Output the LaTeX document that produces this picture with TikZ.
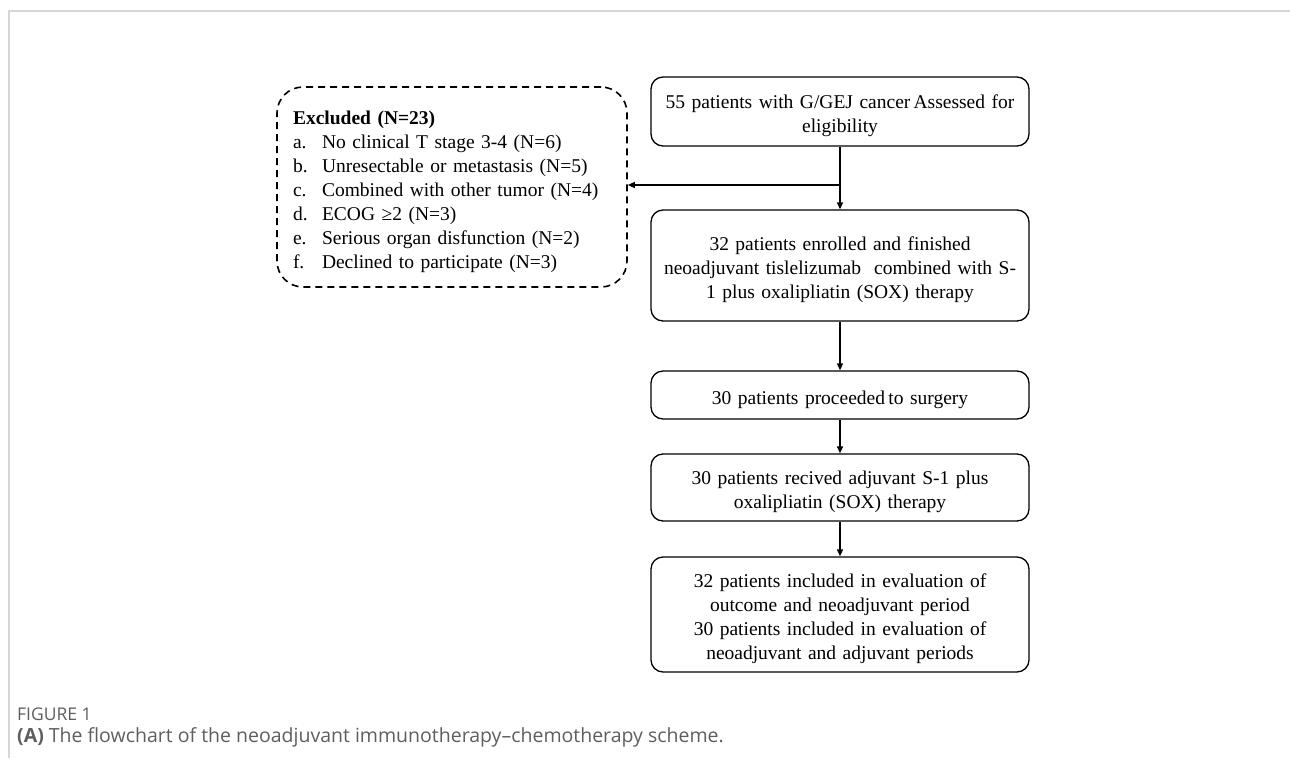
\documentclass[tikz,border=0pt]{standalone}
\usepackage{fontspec}
\setmainfont{Liberation Serif}
\newfontfamily\capfont{Open Sans}
\usetikzlibrary{arrows.meta}
\definecolor{framegray}{HTML}{D6D6D6}
\definecolor{capgray}{HTML}{5E5E5E}
\tikzset{
  flowbox/.style={draw, rounded corners=12pt, line width=1.3pt, minimum width=378pt,
    text width=372pt, align=center, inner sep=0pt, font=\fontsize{19.5}{24}\selectfont,
    execute at begin node={\rule{0pt}{23pt}}},
  exclbox/.style={draw, dash pattern=on 7pt off 5pt, rounded corners=26pt, line width=1.6pt,
    minimum width=350pt, minimum height=200pt, text width=318pt, inner xsep=16pt,
    align=left, font=\fontsize{19.5}{24}\selectfont, execute at begin node={\rule{0pt}{23pt}}},
  flowarrow/.style={line width=1.3pt, -{Triangle[length=7pt,width=6pt]}}
}
\newcommand{\itemlab}[1]{\makebox[29pt][l]{#1}}
\begin{document}
\begin{tikzpicture}[x=1pt,y=-1pt]
    \useasboundingbox (0,0) rectangle (1290,758);
    \draw[framegray, line width=1.5pt] (1290,11) -- (9,11) -- (9,758);
    % main column
    \node[flowbox, minimum height=69pt] (assessed) at (840,111.5) {55 patients with G/GEJ cancer\,Assessed for\\eligibility};
    \node[flowbox, minimum height=111pt] (enrolled) at (840,265.5) {32 patients enrolled and finished\\neoadjuvant tislelizumab\ \ combined with S-\\1 plus oxalipliatin (SOX) therapy};
    \node[flowbox, minimum height=48pt] (surgery) at (840,395) {30 patients proceeded\,to surgery};
    \node[flowbox, minimum height=67pt] (adjuvant) at (840,487.5) {30 patients recived adjuvant S-1 plus\\oxalipliatin (SOX) therapy};
    \node[flowbox, minimum height=115pt] (evaluation) at (840,614.5) {32 patients included in evaluation of\\outcome and neoadjuvant period\\30 patients included in evaluation of\\neoadjuvant and adjuvant periods};
    % excluded
    \node[exclbox] (excluded) at (452,187) {\textbf{Excluded (N=23)}\\
        \itemlab{a.}No clinical T stage 3-4 (N=6)\\
        \itemlab{b.}Unresectable or metastasis (N=5)\\
        \itemlab{c.}Combined with other tumor (N=4)\\
        \itemlab{d.}ECOG ≥2 (N=3)\\
        \itemlab{e.}Serious organ disfunction (N=2)\\
        \itemlab{f.}Declined to participate (N=3)};
    \coordinate (split) at (840,185);
    \draw[flowarrow] (assessed) -- (enrolled);
    \draw[flowarrow] (split) -- (excluded.east |- split);
    \draw[flowarrow] (enrolled) -- (surgery);
    \draw[flowarrow] (surgery) -- (adjuvant);
    \draw[flowarrow] (adjuvant) -- (evaluation);
    % caption
    \node[anchor=west, inner sep=0pt, text=capgray, font=\capfont\fontsize{17.5}{20}\selectfont] (figlabel) at (17,714) {FIGURE 1};
    \node[anchor=west, inner sep=0pt, text=capgray, font=\capfont\fontsize{19.5}{22}\selectfont] (figcaption) at (17,737) {\textbf{(A)} The flowchart of the neoadjuvant immunotherapy–chemotherapy scheme.};
\end{tikzpicture}
\end{document}
